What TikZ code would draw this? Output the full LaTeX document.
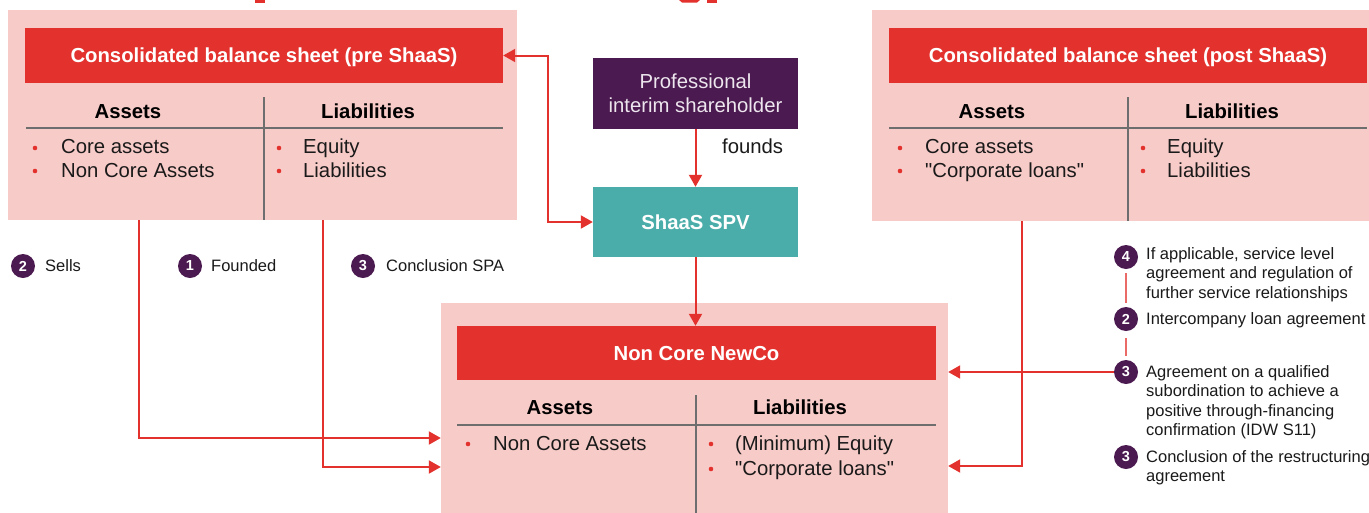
\documentclass[tikz,border=0pt]{standalone}
\usepackage{fontspec}
\setmainfont{Liberation Sans}[Ligatures=TeXOff]
\usetikzlibrary{arrows.meta}

\definecolor{pinkc}{HTML}{F7CBC8}
\definecolor{redc}{HTML}{E3322D}
\definecolor{purp}{HTML}{4B1A50}
\definecolor{tealc}{HTML}{4BADA9}
\definecolor{grayl}{HTML}{6E6E6E}
\definecolor{inkc}{HTML}{1A1A1A}
\definecolor{linkc}{HTML}{E96A66}
\definecolor{palet}{HTML}{EDE6EE}

\newcommand\fbody{\fontsize{20.3}{24}\selectfont}
\newcommand\fsmall{\fontsize{16.5}{19.5}\selectfont}
\newcommand\fnum{\bfseries\fontsize{14.5}{16}\selectfont}

\begin{document}
\begin{tikzpicture}[x=1pt,y=-1pt,
  panel/.style={fill=pinkc,draw=none,inner sep=0,minimum width=#1},
  hdr/.style={fill=redc,draw=none,text=white,font=\fbody\bfseries,inner sep=0,
    minimum width=#1,minimum height=55pt,text height=14.6pt,text depth=0pt},
  colhead/.style={font=\fbody\bfseries,text=black,inner sep=0,text height=14.6pt,text depth=0pt},
  item/.style={font=\fbody,text=inkc,inner sep=0,anchor=west,text height=14.6pt,text depth=0pt},
  bul/.style={circle,fill=redc,draw=none,inner sep=0,minimum size=4.6pt},
  rule/.style={draw=grayl,line width=2pt},
  arr/.style={draw=redc,line width=2pt,-{Triangle[length=12pt,width=13pt]}},
  arrboth/.style={draw=redc,line width=2pt,{Triangle[length=12pt,width=13pt]}-{Triangle[length=12pt,width=13pt]}},
  num/.style={circle,fill=purp,draw=none,text=white,font=\fnum,inner sep=0,minimum size=24pt},
  note/.style={font=\fsmall,text=inkc,inner sep=0,anchor=west,text height=11.9pt,text depth=0pt},
  notebox/.style={font=\fsmall,text=inkc,inner sep=0,anchor=north west,align=left},
  link/.style={draw=linkc,line width=2pt}
]
\clip (0,0) rectangle (1369,512);
\fill[white] (0,0) rectangle (1369,512);

% fragments of the page title running off the top edge
\fill[redc] (255,0) rectangle (265,2.5);
\fill[redc] (679,0) -- (700,0) -- (697,2.5) -- (682,2.5) -- cycle;
\fill[redc] (707,0) rectangle (717,2.5);

% ---------------- consolidated balance sheet (pre ShaaS)
\node[panel=509pt,minimum height=210pt] (lbox) at (262.5,115) {};
\node[hdr=478pt] (lhdr) at (264,55.5) {Consolidated balance sheet (pre ShaaS)};
\draw[rule] (264,97) -- (264,220);
\draw[rule] (26,128) -- (503,128);
\node[colhead] (lassets) at (128,111) {Assets};
\node[colhead] (lliab) at (368,111) {Liabilities};
\node[bul] (lb1) at (35,148) {};
\node[bul] (lb2) at (35,171) {};
\node[item] (la1) at (61,146) {Core assets};
\node[item] (la2) at (61,170) {Non Core Assets};
\node[bul] (lb3) at (279,148) {};
\node[bul] (lb4) at (279,171) {};
\node[item] (ll1) at (303,146) {Equity};
\node[item] (ll2) at (303,170) {Liabilities};

% ---------------- consolidated balance sheet (post ShaaS)
\node[panel=497pt,minimum height=211pt] (rbox) at (1120.5,115.5) {};
\node[hdr=478pt] (rhdr) at (1128,55.5) {Consolidated balance sheet (post ShaaS)};
\draw[rule] (1128,97) -- (1128,221);
\draw[rule] (889,128) -- (1367,128);
\node[colhead] (rassets) at (992,111) {Assets};
\node[colhead] (rliab) at (1232,111) {Liabilities};
\node[bul] (rb1) at (900,148) {};
\node[bul] (rb2) at (900,171) {};
\node[item] (ra1) at (925,146) {Core assets};
\node[item] (ra2) at (925,170) {"Corporate loans"};
\node[bul] (rb3) at (1143,148) {};
\node[bul] (rb4) at (1143,171) {};
\node[item] (rl1) at (1167,146) {Equity};
\node[item] (rl2) at (1167,170) {Liabilities};

% ---------------- shareholder and SPV
\node[fill=purp,draw=none,text=palet,font=\fbody,align=center,inner sep=0,
  minimum width=205pt,minimum height=71pt] (psh) at (695.5,93.5)
  {Professional\\interim shareholder};
\node[fill=tealc,draw=none,text=white,font=\fbody\bfseries,inner sep=0,
  minimum width=205pt,minimum height=70pt,text height=14.6pt,text depth=0pt] (spv) at (695.5,222) {ShaaS SPV};
\node[item] (founds) at (722,146) {founds};

% ---------------- Non Core NewCo
\node[panel=507pt,minimum height=217pt] (ncbox) at (694.5,411.5) {};
\node[hdr=479pt,minimum height=54pt] (nchdr) at (696.5,353) {Non Core NewCo};
\draw[rule] (696,395) -- (696,520);
\draw[rule] (457,425) -- (936,425);
\node[colhead] (nassets) at (560,407) {Assets};
\node[colhead] (nliab) at (800,407) {Liabilities};
\node[bul] (nb1) at (468,444) {};
\node[item] (na1) at (493,443) {Non Core Assets};
\node[bul] (nb2) at (711,444) {};
\node[bul] (nb3) at (711,469) {};
\node[item] (nl1) at (735,443) {(Minimum) Equity};
\node[item] (nl2) at (735,468) {"Corporate loans"};

% ---------------- step labels on the left
\node[num] (s2) at (23,266) {2};
\node[note] (s2t) at (45,266) {Sells};
\node[num] (s1) at (190,266) {1};
\node[note] (s1t) at (211,266) {Founded};
\node[num] (s3) at (363,266) {3};
\node[note] (s3t) at (386,266) {Conclusion SPA};

% ---------------- step list on the right
\node[num] (r4) at (1126,257) {4};
\node[notebox] (r4t) at (1146,247) {If applicable, service level\\agreement and regulation of\\further service relationships};
\node[num] (r2) at (1126,319) {2};
\node[notebox] (r2t) at (1146,312) {Intercompany loan agreement};
\node[num] (r3) at (1126,372) {3};
\node[notebox] (r3t) at (1146,365) {Agreement on a qualified\\subordination to achieve a\\positive through-financing\\confirmation (IDW S11)};
\node[num] (r3b) at (1126,457) {3};
\node[notebox] (r3bt) at (1146,450) {Conclusion of the restructuring\\agreement};
\draw[link,shorten <=4pt,shorten >=4pt] (r4.south) -- (r2.north);
\draw[link,shorten <=7pt,shorten >=4pt] (r2.south) -- (r3.north);

% ---------------- connectors
\draw[arr] (psh.south) -- (spv.north);
\draw[arr] (spv.south) -- (spv.south |- nchdr.north);
\draw[arrboth] (lhdr.east) -- ++(45,0) |- (spv.west);
\draw[arr] (lbox.south -| 139,0) |- (ncbox.west |- 0,438);
\draw[arr] (lbox.south -| 323,0) |- (ncbox.west |- 0,467);
\draw[arr] (rbox.south -| 1022,0) |- (ncbox.east |- 0,466);
\draw[arr] (r3.west) -- (ncbox.east |- r3.west);
\end{tikzpicture}
\end{document}
